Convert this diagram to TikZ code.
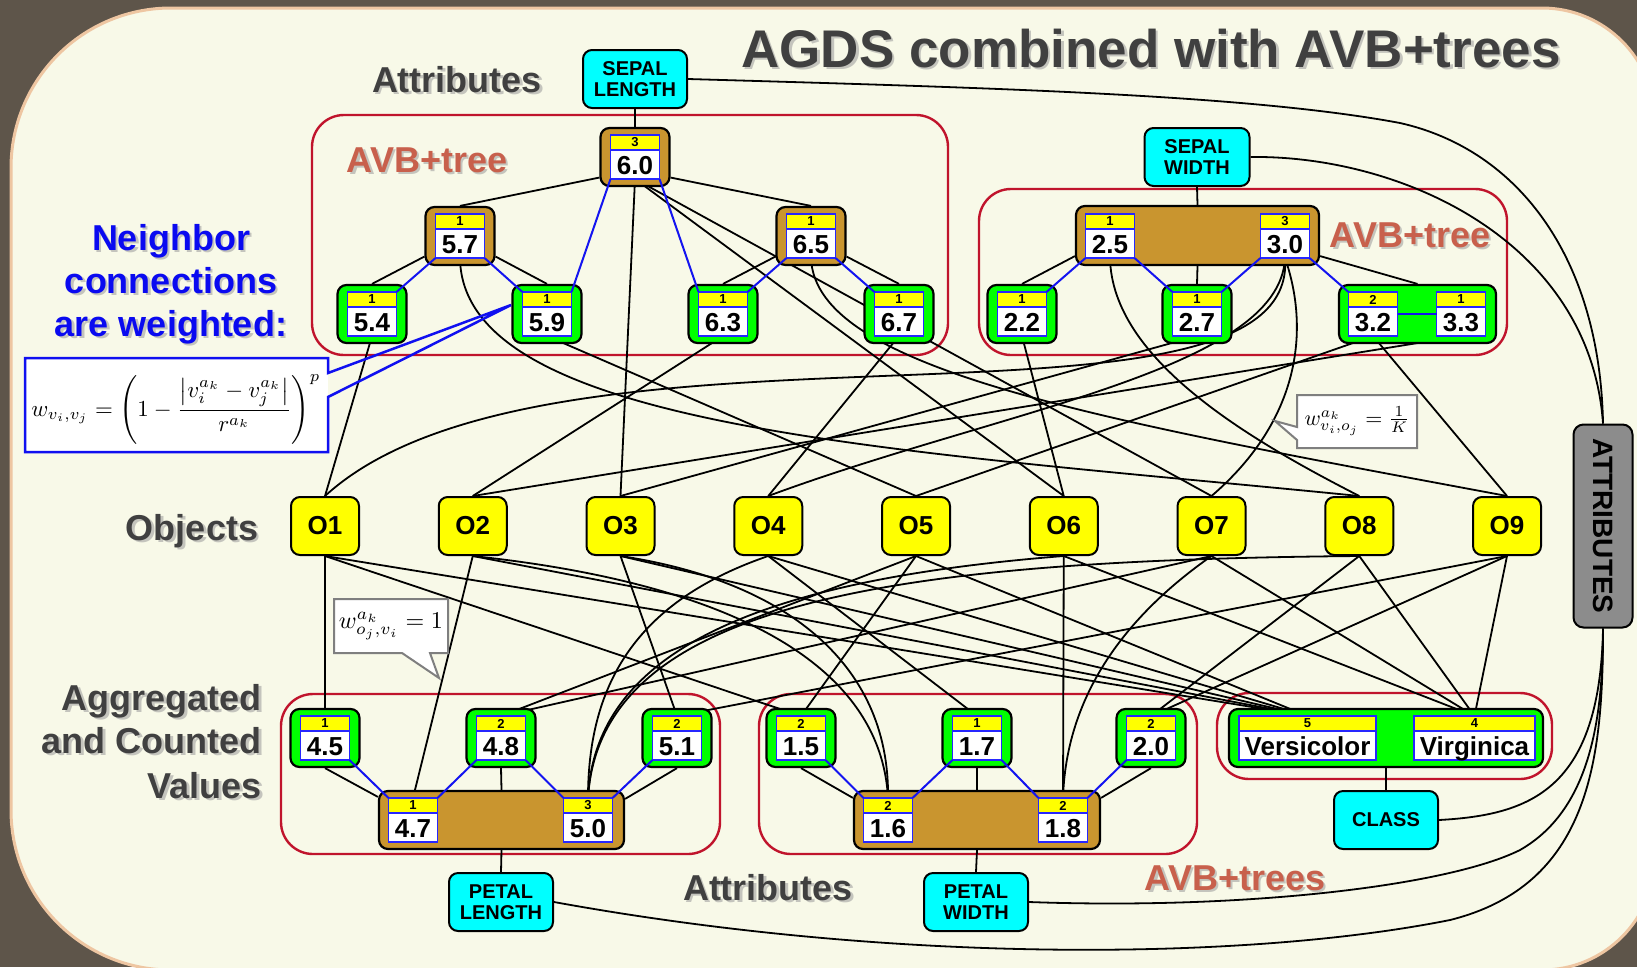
\documentclass[tikz,border=0pt]{standalone}
\usepackage{fontspec}
\setmainfont{Liberation Sans}
\usetikzlibrary{calc}
\pgfdeclarelayer{back}
\pgfdeclarelayer{wires}
\pgfsetlayers{back,wires,main}

\definecolor{bgdark}{HTML}{5E554A}
\definecolor{paper}{HTML}{F8F9E8}
\definecolor{rim}{HTML}{EEC6A2}
\definecolor{avbred}{HTML}{C0142C}
\definecolor{vgreen}{HTML}{00FF00}
\definecolor{vbrown}{HTML}{C9952F}
\definecolor{cntyellow}{HTML}{FFFF00}
\definecolor{attrcyan}{HTML}{00FFFF}
\definecolor{attrgray}{HTML}{8C8C8C}
\definecolor{inblue}{HTML}{2626FF}
\definecolor{nbrblue}{HTML}{1414F0}
\definecolor{lblgray}{HTML}{404040}
\definecolor{lblshadow}{HTML}{9A9A9A}
\definecolor{avbsalmon}{HTML}{C8604C}
\definecolor{nbblue}{HTML}{0A0AF0}
\definecolor{fblue}{HTML}{1010F0}
\definecolor{callgray}{HTML}{7F7F7F}

\newcommand\fsz[1]{\fontsize{#1}{#1}\selectfont}

% value cell: name, x, y, width, count, value
\newcommand\valbox[6]{%
  \node[inbox, minimum width=#4pt] (#1) at (#2,#3) {};
  \fill[cntyellow] (#1.north west) rectangle ($(#1.north east)+(0,15)$);
  \draw[inblue, line width=1.6pt] (#1.north west) rectangle (#1.south east);
  \draw[inblue, line width=1.6pt] ($(#1.north west)+(0,15)$) -- ($(#1.north east)+(0,15)$);
  \node[cnt] (#1-c) at ($(#1.north)+(0,7.5)$) {#5};
  \node[val, anchor=base] (#1-v) at ($(#1.south)+(0,-5)$) {#6};
}

% label with a soft drop shadow: name, x, y, anchor, style, text
\newcommand\shlabel[6]{%
  \node[#5, anchor=#4, text=lblshadow, opacity=.55] (#1-sh) at ({#2+2.5},{#3+2.5}) {#6};
  \node[#5, anchor=#4] (#1) at (#2,#3) {#6};
}

\begin{document}
\begin{tikzpicture}[x=1pt, y=-1pt,
  edge/.style={draw=black, line width=1.8pt},
  nbr/.style={draw=nbrblue, line width=2pt},
  outbox/.style={draw=black, line width=2.2pt, rounded corners=9pt,
    minimum width=69pt, minimum height=58pt, inner sep=0pt},
  gbox/.style={outbox, fill=vgreen},
  bbox/.style={outbox, fill=vbrown},
  inbox/.style={fill=white, minimum height=44pt, inner sep=0pt, outer sep=0pt},
  cnt/.style={font=\bfseries\fsz{13}, inner sep=0pt},
  val/.style={font=\bfseries\fsz{26}, inner sep=0pt},
  obj/.style={draw=black, line width=2pt, fill=cntyellow, rounded corners=9pt,
    minimum width=68pt, minimum height=58pt, inner sep=0pt, font=\bfseries\fsz{26}},
  attrnode/.style={draw=black, line width=2pt, fill=attrcyan, rounded corners=9pt,
    minimum width=104pt, minimum height=58pt, inner sep=0pt, align=center,
    font=\bfseries\fontsize{20}{21}\selectfont},
  avbframe/.style={draw=avbred, line width=2.4pt, rounded corners=32pt},
  lbl/.style={font=\bfseries\fsz{36}, text=lblgray, inner sep=0pt},
]
\useasboundingbox (0,0) rectangle (1637,967);

% ---------- backdrop and tree frames ----------
\begin{pgfonlayer}{back}
  \fill[bgdark] (0,0) rectangle (1637,967);
  \path[fill=paper, draw=rim, line width=3pt]
    (11,500) [rounded corners=160pt] -- (11,8) -- (900,8)
    [rounded corners=113pt] -- (1655,8) -- (1655,970) -- (900,970)
    [rounded corners=160pt] -- (11,970) -- cycle;
  \draw[avbframe] (312,115) rectangle (948,355);
  \draw[avbframe] (979,189) rectangle (1507,355);
  \draw[avbframe] (281,694) rectangle (720,854);
  \draw[avbframe] (759,694) rectangle (1197,854);
  \draw[avbframe] (1217,693) rectangle (1552,779);
\end{pgfonlayer}

% ---------- headings ----------
\shlabel{ttl}{1151}{67}{base}{lbl, font=\bfseries\fsz{53}}{AGDS combined with AVB+trees}
\shlabel{attrtop}{457}{92}{base}{lbl}{Attributes}
\shlabel{avbl}{427}{172}{base}{lbl, text=avbsalmon}{AVB+tree}
\shlabel{avbr}{1410}{247}{base}{lbl, text=avbsalmon}{AVB+tree}
\shlabel{nb1}{171}{250}{base}{lbl, text=nbblue}{Neighbor}
\shlabel{nb2}{171}{293}{base}{lbl, text=nbblue}{connections}
\shlabel{nb3}{171}{336}{base}{lbl, text=nbblue}{are weighted:}
\shlabel{objl}{192}{540}{base}{lbl}{Objects}
\shlabel{agg1}{262}{710}{base east}{lbl}{Aggregated}
\shlabel{agg2}{262}{753}{base east}{lbl}{and Counted}
\shlabel{agg3}{262}{798}{base east}{lbl}{Values}
\shlabel{attrbot}{768}{900}{base}{lbl}{Attributes}
\shlabel{avbb}{1235}{890}{base}{lbl, text=avbsalmon}{AVB+trees}

% ---------- attribute nodes ----------
\node[attrnode] (sl) at (635,79) {SEPAL\\LENGTH};
\node[attrnode, minimum width=105pt] (sw) at (1197,157) {SEPAL\\WIDTH};
\node[attrnode] (pl) at (501,902) {PETAL\\LENGTH};
\node[attrnode] (pw) at (976,902) {PETAL\\WIDTH};
\node[attrnode] (cls) at (1386,820) {CLASS};
\node[draw=black, line width=2pt, fill=attrgray, rounded corners=10pt,
  minimum width=59pt, minimum height=203pt] (attr) at (1603,526) {};
\node[rotate=-90, font=\bfseries\fsz{28}, inner sep=0pt] (attr-t) at (1603,526) {ATTRIBUTES};

% ---------- AVB+tree containers ----------
\node[gbox] (o54) at (372,314) {};
\node[bbox] (o57) at (460,236) {};
\node[gbox] (o59) at (547,314) {};
\node[bbox] (o60) at (635,157) {};
\node[gbox] (o63) at (723,314) {};
\node[bbox] (o65) at (811,236) {};
\node[gbox] (o67) at (899,314) {};

\node[gbox] (o22) at (1022,314) {};
\node[bbox, minimum width=243pt, minimum height=59pt] (bw) at (1197.5,235.5) {};
\node[gbox] (o27) at (1197,314) {};
\node[gbox, minimum width=157pt] (o3233) at (1417.5,314) {};

\node[gbox] (o45) at (325,738) {};
\node[gbox] (o48) at (501,738) {};
\node[gbox] (o51) at (677,738) {};
\node[bbox, minimum width=245pt] (bl) at (501.5,820) {};

\node[gbox] (o15) at (801,738) {};
\node[gbox] (o17) at (977,738) {};
\node[gbox] (o20) at (1151,738) {};
\node[bbox, minimum width=246pt] (bpw) at (977,820) {};

\node[gbox, minimum width=314pt] (oclass) at (1386,738) {};

% ---------- value cells ----------
\valbox{v54}{372}{314}{49}{1}{5.4}
\valbox{v57}{460}{236}{49}{1}{5.7}
\valbox{v59}{547}{314}{49}{1}{5.9}
\valbox{v60}{635}{157}{49}{3}{6.0}
\valbox{v63}{723}{314}{49}{1}{6.3}
\valbox{v65}{811}{236}{49}{1}{6.5}
\valbox{v67}{899}{314}{49}{1}{6.7}

\valbox{v22}{1022}{314}{49}{1}{2.2}
\valbox{v25}{1110}{236}{49}{1}{2.5}
\valbox{v27}{1197}{314}{49}{1}{2.7}
\valbox{v30}{1285}{236}{49}{3}{3.0}
\valbox{v32}{1373}{314}{49}{2}{3.2}
\valbox{v33}{1461}{314}{49}{1}{3.3}

\valbox{v45}{325}{738}{49}{1}{4.5}
\valbox{v47}{413}{820}{49}{1}{4.7}
\valbox{v48}{501}{738}{49}{2}{4.8}
\valbox{v50}{588}{820}{49}{3}{5.0}
\valbox{v51}{677}{738}{49}{2}{5.1}

\valbox{v15}{801}{738}{49}{2}{1.5}
\valbox{v16}{888}{820}{49}{2}{1.6}
\valbox{v17}{977}{738}{49}{1}{1.7}
\valbox{v18}{1063}{820}{49}{2}{1.8}
\valbox{v20}{1151}{738}{49}{2}{2.0}

\valbox{vvers}{1307.5}{738}{137}{5}{Versicolor}
\valbox{vvirg}{1474.5}{738}{121}{4}{Virginica}

% ---------- objects ----------
\foreach \i in {1,...,9}
  \node[obj] (O\i) at ({325+(\i-1)*147.75},526) {O\i};

% ---------- connections ----------
\begin{pgfonlayer}{wires}
  % tree structure
  \draw[edge] (sl.south) -- (o60.north);
  \draw[edge] (o60.210) -- (o57.north);
  \draw[edge] (o60.-30) -- (o65.north);
  \draw[edge] (o57.210) -- (o54.north);
  \draw[edge] (o57.-30) -- (o59.north);
  \draw[edge] (o65.210) -- (o63.north);
  \draw[edge] (o65.-30) -- (o67.north);

  \draw[edge] (sw.south) -- (bw.north);
  \draw[edge] ($(bw.south west)+(0,-10)$) -- (o22.north);
  \draw[edge] (bw.south) -- (o27.north);
  \draw[edge] ($(bw.south east)+(0,-10)$) -- (o3233.north);

  \draw[edge] (pl.north) -- (bl.south);
  \draw[edge] (bl.north) -- (o48.south);
  \draw[edge] ($(bl.north west)+(0,7)$) -- (o45.south);
  \draw[edge] ($(bl.north east)+(0,9)$) -- (o51.south);

  \draw[edge] (pw.north) -- (bpw.south);
  \draw[edge] (bpw.north) -- (o17.south);
  \draw[edge] ($(bpw.north west)+(0,8)$) -- (o15.south);
  \draw[edge] ($(bpw.north east)+(0,8)$) -- (o20.south);

  \draw[edge] (cls.north) -- (oclass.south);

  % attribute nodes to the ATTRIBUTES hub
  \draw[edge] (sl.east) .. controls (1000,88) and (1250,95) .. (1400,123)
              .. controls (1520,150) and (1600,260) .. (attr.north);
  \draw[edge] (sw.east) .. controls (1400,155) and (1590,240) .. (attr.north);
  \draw[edge] (cls.east) .. controls (1530,815) and (1600,790) .. (attr.south);
  \draw[edge] (pw.east) .. controls (1250,910) and (1450,885) .. (1520,850)
              .. controls (1590,810) and (1603,720) .. (attr.south);
  \draw[edge] (pl.east) .. controls (900,965) and (1250,960) .. (1450,920)
              .. controls (1590,885) and (1603,760) .. (attr.south);

  % sepal values to objects
  \draw[edge] (v54.south) -- (O1.north);
  \draw[edge] (v57.south) .. controls (462,430) and (900,450) .. (O8.north);
  \draw[edge] (v59.south) -- (O5.north);
  \draw[edge] (v60.south) -- (O3.north);
  \draw[edge] (v60.south) -- (O6.north);
  \draw[edge] (v60.south) -- (O7.north);
  \draw[edge] (v63.south) -- (O2.north);
  \draw[edge] (v65.south) .. controls (815,370) and (1100,420) .. (O9.north);
  \draw[edge] (v67.south) -- (O4.north);

  \draw[edge] (v22.south) -- (O6.north);
  \draw[edge] (v25.south) .. controls (1112,360) and (1250,440) .. (O8.north);
  \draw[edge] (v27.south) -- (O3.north);
  \draw[edge] (v30.south) .. controls (1300,460) and (550,290) .. (O1.north);
  \draw[edge] (v30.south) .. controls (1280,370) and (1000,410) .. (O4.north);
  \draw[edge] (v30.south) .. controls (1310,330) and (1300,420) .. (O7.north);
  \draw[edge] (v32.south) -- (O5.north);
  \draw[edge] (v32.south) -- (O9.north);
  \draw[edge] (v33.south) -- (O2.north);

  % objects to petal values and classes
  \draw[edge] (O1.south) -- (v45.north);
  \draw[edge] (O1.south) -- (v15.north);
  \draw[edge] (O1.south) -- (vvers.north);
  \draw[edge] (O2.south) -- (v47.north);
  \draw[edge] (O2.south) .. controls (700,580) and (880,650) .. (v16.north);
  \draw[edge] (O2.south) -- (vvers.north);
  \draw[edge] (O3.south) -- (v51.north);
  \draw[edge] (O3.south) .. controls (780,580) and (890,660) .. (v16.north);
  \draw[edge] (O3.south) -- (vvers.north);
  \draw[edge] (O4.south) .. controls (640,600) and (588,680) .. (v50.north);
  \draw[edge] (O4.south) -- (v17.north);
  \draw[edge] (O4.south) -- (vvers.north);
  \draw[edge] (O5.south) -- (v48.north);
  \draw[edge] (O5.south) -- (v15.north);
  \draw[edge] (O5.south) -- (vvers.north);
  \draw[edge] (O6.south) .. controls (760,580) and (595,650) .. (v50.north);
  \draw[edge] (O6.south) -- (v18.north);
  \draw[edge] (O6.south) -- (vvirg.north);
  \draw[edge] (O7.south) -- (v48.north);
  \draw[edge] (O7.south) .. controls (1120,620) and (1066,700) .. (v18.north);
  \draw[edge] (O7.south) -- (vvirg.north);
  \draw[edge] (O8.south) .. controls (900,560) and (600,600) .. (v50.north);
  \draw[edge] (O8.south) -- (v20.north);
  \draw[edge] (O8.south) -- (vvirg.north);
  \draw[edge] (O9.south) -- (v51.north);
  \draw[edge] (O9.south) -- (v20.north);
  \draw[edge] (O9.south) -- (vvirg.north);
\end{pgfonlayer}

% ---------- neighbour links inside the trees ----------
\draw[nbr] (v54.north east) -- (v57.south west);
\draw[nbr] (v57.south east) -- (v59.north west);
\draw[nbr] (v59.north east) -- (v60.south west);
\draw[nbr] (v60.south east) -- (v63.north west);
\draw[nbr] (v63.north east) -- (v65.south west);
\draw[nbr] (v65.south east) -- (v67.north west);

\draw[nbr] (v22.north east) -- (v25.south west);
\draw[nbr] (v25.south east) -- (v27.north west);
\draw[nbr] (v27.north east) -- (v30.south west);
\draw[nbr] (v30.south east) -- (v32.north west);
\draw[nbr] (v32.east) -- (v33.west);

\draw[nbr] (v45.south east) -- (v47.north west);
\draw[nbr] (v47.north east) -- (v48.south west);
\draw[nbr] (v48.south east) -- (v50.north west);
\draw[nbr] (v50.north east) -- (v51.south west);

\draw[nbr] (v15.south east) -- (v16.north west);
\draw[nbr] (v16.north east) -- (v17.south west);
\draw[nbr] (v17.south east) -- (v18.north west);
\draw[nbr] (v18.north east) -- (v20.south west);

% ---------- weight callouts ----------
\fill[white] (25,358) rectangle (328,452);
\draw[fblue, line width=2.5pt, line join=miter]
  (328,373) -- (328,358) -- (25,358) -- (25,452) -- (328,452) -- (328,397) -- (511,305) -- cycle;
\node[inner sep=0pt, anchor=base] (fw) at (176,416)
  {\resizebox{289pt}{!}{$\displaystyle\smash{w_{v_i,v_j}=\left(1-\frac{\left|v_i^{a_k}-v_j^{a_k}\right|}{r^{a_k}}\right)^{p}}$}};

\draw[callgray, fill=white, line width=2pt]
  (1297,395) -- (1417,395) -- (1417,448) -- (1297,448) -- (1297,440) -- (1275,421) -- (1297,427) -- cycle;
\node[inner sep=0pt] (fk) at (1357,421)
  {\resizebox{105pt}{!}{$w^{a_k}_{v_i,o_j}=\frac{1}{K}$}};

\draw[callgray, fill=white, line width=2pt]
  (334,599) -- (448,599) -- (448,653) -- (430,653) -- (439,678) -- (402,653) -- (334,653) -- cycle;
\node[inner sep=0pt] (f1) at (391,626)
  {\resizebox{104pt}{!}{$w^{a_k}_{o_j,v_i}=1$}};

\end{tikzpicture}
\end{document}
